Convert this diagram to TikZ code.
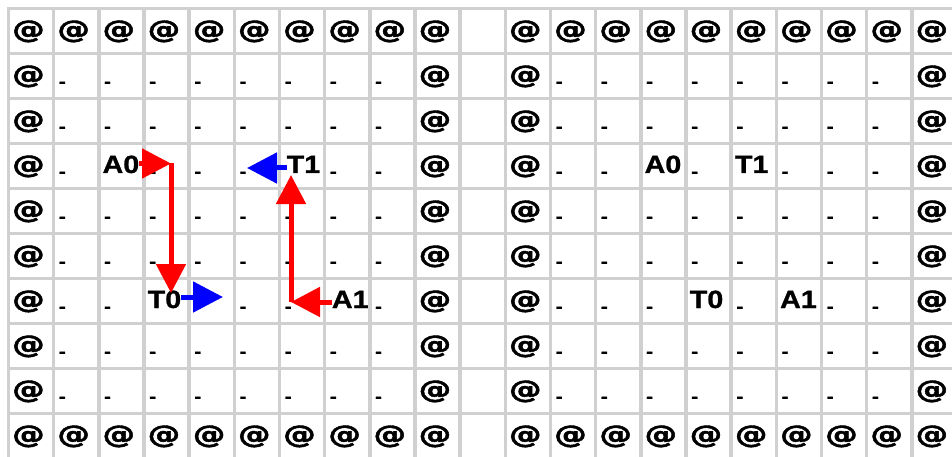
\documentclass[tikz,border=0pt]{standalone}
\usepackage{fontspec}
\usepackage{graphicx}
\setmainfont{Liberation Sans}[FakeStretch=1.15,FakeBold=1]
\newfontfamily\atfont{DejaVu Sans}[FakeBold=1.5]
\usetikzlibrary{arrows.meta}
\definecolor{gridgray}{RGB}{208,208,208}
\definecolor{arrred}{RGB}{255,0,0}
\definecolor{arrblue}{RGB}{0,0,255}
\tikzset{
  gridline/.style={draw=gridgray, line width=3.5pt},
  lbl/.style={anchor=base west, inner sep=0pt, font=\fontsize{25}{25}\selectfont\bfseries},
  atsign/.style={anchor=base west, inner sep=0pt, font=\atfont\fontsize{25}{25}\selectfont\bfseries},
  dashmark/.style={anchor=base west, inner sep=0pt, font=\fontsize{18}{18}\selectfont\bfseries},
  redarrow/.style={draw=arrred, color=arrred, line width=5pt, -{Triangle[length=29pt,width=29pt]}},
  bluearrow/.style={draw=arrblue, color=arrblue, line width=5pt, -{Triangle[length=30pt,width=30pt]}}
}
\expandafter\def\csname skip203\endcsname{}
\expandafter\def\csname skip603\endcsname{}
\expandafter\def\csname skip306\endcsname{}
\expandafter\def\csname skip706\endcsname{}
\expandafter\def\csname skip1403\endcsname{}
\expandafter\def\csname skip1603\endcsname{}
\expandafter\def\csname skip1506\endcsname{}
\expandafter\def\csname skip1706\endcsname{}
\begin{document}
\begin{tikzpicture}[x=1pt,y=-1pt]
\fill[white] (0,0) rectangle (952,457);
\useasboundingbox (0,0) rectangle (952,457);
\clip (0,0) rectangle (952,457);
% grid
\foreach \k in {0,...,20} {
  \pgfmathsetmacro\xx{8.5+45.17*\k}
  \draw[gridline] (\xx,6.75) -- (\xx,470);
}
\foreach \k in {0,...,9} {
  \pgfmathsetmacro\yy{8.5+45*\k}
  \draw[gridline] (6.75,\yy) -- (970,\yy);
}
% @ on top and bottom rows
\foreach \c in {0,...,9,11,12,...,20} {
  \foreach \r in {0,9} {
    \pgfmathsetmacro\xx{8.5+45.17*\c+3.5}
    \pgfmathsetmacro\yy{8.5+45*\r+29.5}
    \node[atsign] (at-\c-\r) at (\xx,\yy) {\scalebox{1.3}[1]{@}};
  }
}
% @ on side columns
\foreach \c in {0,9,11,20} {
  \foreach \r in {1,...,8} {
    \pgfmathsetmacro\xx{8.5+45.17*\c+3.5}
    \pgfmathsetmacro\yy{8.5+45*\r+29.5}
    \node[atsign] (at-\c-\r) at (\xx,\yy) {\scalebox{1.3}[1]{@}};
  }
}
% dashes
\foreach \c in {1,...,8,12,13,...,19} {
  \foreach \r in {1,...,8} {
    \pgfmathtruncatemacro\key{100*\c+\r}
    \ifcsname skip\key\endcsname\else
      \pgfmathsetmacro\xx{8.5+45.17*\c+5}
      \pgfmathsetmacro\yy{8.5+45*\r+34}
      \node[dashmark] (d-\c-\r) at (\xx,\yy) {-};
    \fi
  }
}
% labels, left grid
\node[lbl] (A0) at ({8.5+45.17*2+3.5},{8.5+45*3+29.5}) {A0};
\node[lbl] (T1) at ({8.5+45.17*6+7},{8.5+45*3+29.5}) {T1};
\node[lbl] (T0) at ({8.5+45.17*3+3.5},{8.5+45*6+29.5}) {T0};
\node[lbl] (A1) at ({8.5+45.17*7+7},{8.5+45*6+29.5}) {A1};
% labels, right grid
\node[lbl] (A0r) at ({8.5+45.17*14+3.5},{8.5+45*3+29.5}) {A0};
\node[lbl] (T1r) at ({8.5+45.17*16+3.5},{8.5+45*3+29.5}) {T1};
\node[lbl] (T0r) at ({8.5+45.17*15+3.5},{8.5+45*6+29.5}) {T0};
\node[lbl] (A1r) at ({8.5+45.17*17+3.5},{8.5+45*6+29.5}) {A1};
% arrows
\coordinate (c1) at (171,163.5);
\coordinate (e1) at (171,293);
\coordinate (e2) at (223,297);
\coordinate (e3) at (247,168);
\coordinate (c4) at (291,302);
\coordinate (e4) at (291,175);
\draw[redarrow] (A0.east |- c1) -- (c1);
\draw[redarrow] (c1) -- (e1);
\draw[bluearrow] (T0.east |- e2) -- (e2);
\draw[bluearrow] (T1.west |- e3) -- (e3);
\draw[redarrow] (A1.west |- c4) -- (c4);
\draw[redarrow] (c4) -- (e4);
\end{tikzpicture}
\end{document}
